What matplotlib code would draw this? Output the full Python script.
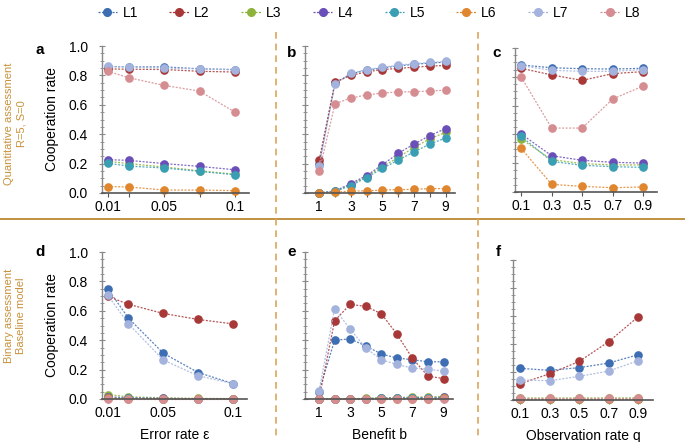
import matplotlib
matplotlib.use('Agg')
import matplotlib.pyplot as plt
from matplotlib.lines import Line2D

plt.rcParams['font.family'] = ['Liberation Sans', 'DejaVu Sans']

names = ['L1', 'L2', 'L3', 'L4', 'L5', 'L6', 'L7', 'L8']
colors = {'L1': '#3d6db3', 'L2': '#a83838', 'L3': '#8db33c', 'L4': '#6b4fb8',
          'L5': '#3a9fb4', 'L6': '#e0862e', 'L7': '#a4b3dd', 'L8': '#d68d91'}

x_err = [0.01, 0.025, 0.05, 0.075, 0.1]
x_ben = [1, 2, 3, 4, 5, 6, 7, 8, 9]
x_obs = [0.1, 0.3, 0.5, 0.7, 0.9]

# panel a: quantitative, error rate
a_L1 = [0.860, 0.858, 0.858, 0.845, 0.840]
a_L2 = [0.844, 0.842, 0.840, 0.828, 0.823]
a_L3 = [0.215, 0.200, 0.177, 0.151, 0.128]
a_L4 = [0.227, 0.222, 0.200, 0.181, 0.158]
a_L5 = [0.202, 0.183, 0.170, 0.147, 0.124]
a_L6 = [0.044, 0.041, 0.020, 0.020, 0.016]
a_L7 = [0.862, 0.858, 0.850, 0.844, 0.837]
a_L8 = [0.828, 0.784, 0.732, 0.693, 0.550]

# panel b: quantitative, benefit
b_L1 = [0.200, 0.748, 0.810, 0.836, 0.850, 0.865, 0.875, 0.884, 0.890]
b_L2 = [0.224, 0.753, 0.800, 0.824, 0.840, 0.847, 0.856, 0.863, 0.868]
b_L3 = [0.000, 0.010, 0.057, 0.112, 0.178, 0.242, 0.310, 0.368, 0.413]
b_L4 = [0.000, 0.014, 0.064, 0.119, 0.192, 0.269, 0.333, 0.390, 0.438]
b_L5 = [0.000, 0.012, 0.050, 0.105, 0.167, 0.224, 0.279, 0.333, 0.374]
b_L6 = [0.000, 0.005, 0.014, 0.014, 0.020, 0.023, 0.025, 0.030, 0.030]
b_L7 = [0.187, 0.744, 0.813, 0.840, 0.854, 0.870, 0.879, 0.888, 0.895]
b_L8 = [0.148, 0.607, 0.646, 0.667, 0.680, 0.687, 0.689, 0.694, 0.699]

# panel c: quantitative, observation rate
c_L1 = [0.882, 0.863, 0.856, 0.854, 0.859]
c_L2 = [0.859, 0.813, 0.775, 0.822, 0.836]
c_L3 = [0.368, 0.225, 0.197, 0.188, 0.188]
c_L4 = [0.403, 0.252, 0.220, 0.206, 0.201]
c_L5 = [0.387, 0.213, 0.185, 0.176, 0.171]
c_L6 = [0.303, 0.053, 0.039, 0.030, 0.035]
c_L7 = [0.877, 0.845, 0.838, 0.838, 0.850]
c_L8 = [0.799, 0.444, 0.444, 0.646, 0.736]

# panel d: binary, error rate
d_L1 = [0.751, 0.550, 0.311, 0.180, 0.105]
d_L2 = [0.699, 0.644, 0.582, 0.541, 0.511]
d_L3 = [0.030, 0.015, 0.008, 0.004, 0.003]
d_L4 = [0.015, 0.008, 0.004, 0.002, 0.002]
d_L5 = [0.010, 0.006, 0.003, 0.002, 0.001]
d_L6 = [0.005, 0.003, 0.002, 0.001, 0.001]
d_L7 = [0.708, 0.511, 0.265, 0.158, 0.105]
d_L8 = [0.000, 0.000, 0.000, 0.000, 0.000]

# panel e: binary, benefit
e_L1 = [0.050, 0.400, 0.409, 0.361, 0.306, 0.279, 0.267, 0.253, 0.253]
e_L2 = [0.000, 0.532, 0.644, 0.630, 0.580, 0.441, 0.276, 0.155, 0.139]
e_L3 = [0.000, 0.000, 0.002, 0.005, 0.008, 0.010, 0.013, 0.015, 0.016]
e_L4 = [0.000, 0.000, 0.001, 0.003, 0.005, 0.006, 0.008, 0.010, 0.011]
e_L5 = [0.000, 0.000, 0.001, 0.002, 0.004, 0.005, 0.007, 0.008, 0.009]
e_L6 = [0.000, 0.000, 0.001, 0.001, 0.002, 0.002, 0.003, 0.003, 0.004]
e_L7 = [0.055, 0.614, 0.475, 0.347, 0.267, 0.235, 0.210, 0.203, 0.189]
e_L8 = [0.000, 0.000, 0.000, 0.000, 0.000, 0.000, 0.000, 0.000, 0.000]

# panel f: binary, observation rate
f_L1 = [0.226, 0.212, 0.231, 0.264, 0.324]
f_L2 = [0.117, 0.188, 0.276, 0.417, 0.595]
f_L3 = [0.014, 0.014, 0.014, 0.015, 0.015]
f_L4 = [0.010, 0.010, 0.010, 0.010, 0.010]
f_L5 = [0.010, 0.010, 0.010, 0.010, 0.010]
f_L6 = [0.008, 0.008, 0.008, 0.008, 0.008]
f_L7 = [0.143, 0.138, 0.169, 0.207, 0.281]
f_L8 = [0.012, 0.012, 0.012, 0.012, 0.012]

y_major = [0.0, 0.2, 0.4, 0.6, 0.8, 1.0]
y_major_labels = ['0.0', '0.2', '0.4', '0.6', '0.8', '1.0']
y_minor = [i * 0.05 for i in range(21)]

W, H = 685, 442
fig = plt.figure(figsize=(W / 100, H / 100), dpi=100)


def rect(l, t, r, b):
    return [l / W, 1 - b / H, (r - l) / W, (b - t) / H]


def panel(box, x, series, xlim, xlabels, ylab=False, xlabel=None):
    ax = fig.add_axes(rect(*box))
    for n, y in zip(names, series):
        ax.plot(x, y, linestyle=(0, (1.6, 1.2)), lw=0.9, color=colors[n], alpha=0.85, clip_on=False)
        ax.plot(x, y, linestyle='none', marker='o', ms=5.2, color=colors[n], clip_on=False)
    ax.set_xlim(*xlim)
    ax.set_ylim(0, 1)
    ax.set_xticks(x)
    ax.set_xticklabels(xlabels)
    ax.set_yticks(y_major)
    ax.set_yticks(y_minor, minor=True)
    for s in ['top', 'right']:
        ax.spines[s].set_visible(False)
    ax.spines['left'].set_color('#888888')
    ax.spines['bottom'].set_color('#555555')
    ax.spines['left'].set_linewidth(1.0)
    ax.spines['bottom'].set_linewidth(1.2)
    ax.tick_params(axis='x', direction='out', length=3, color='#555555', pad=2, labelsize=10)
    ax.tick_params(axis='y', which='major', direction='inout', length=4, color='#888888', pad=8, labelsize=10)
    ax.tick_params(axis='y', which='minor', direction='inout', length=2.5, color='#888888')
    if ylab:
        ax.set_yticklabels(y_major_labels)
        ax.set_ylabel('Cooperation rate', fontsize=10, labelpad=7)
    else:
        ax.set_yticklabels([])
    if xlabel:
        ax.set_xlabel(xlabel, fontsize=10, labelpad=6)
    return ax


lab_err = ['0.01', '', '0.05', '', '0.1']
lab_ben = ['1', '', '3', '', '5', '', '7', '', '9']
lab_obs = ['0.1', '0.3', '0.5', '0.7', '0.9']

panel((102, 46, 249, 193), x_err, [a_L1, a_L2, a_L3, a_L4, a_L5, a_L6, a_L7, a_L8],
      (0.006, 0.11), lab_err, ylab=True)
panel((305, 46, 455, 193), x_ben, [b_L1, b_L2, b_L3, b_L4, b_L5, b_L6, b_L7, b_L8],
      (0.1, 9.6), lab_ben)
panel((515, 48, 657, 192), x_obs, [c_L1, c_L2, c_L3, c_L4, c_L5, c_L6, c_L7, c_L8],
      (0.06, 0.99), lab_obs)
panel((102, 252, 247, 399), x_err, [d_L1, d_L2, d_L3, d_L4, d_L5, d_L6, d_L7, d_L8],
      (0.006, 0.11), lab_err, ylab=True, xlabel='Error rate ε')
panel((305, 252, 453, 399), x_ben, [e_L1, e_L2, e_L3, e_L4, e_L5, e_L6, e_L7, e_L8],
      (0.1, 9.6), lab_ben, xlabel='Benefit b')
panel((513, 260, 653, 400), x_obs, [f_L1, f_L2, f_L3, f_L4, f_L5, f_L6, f_L7, f_L8],
      (0.05, 1.0), lab_obs, xlabel='Observation rate q')

# panel letters
for letter, px, py in [('a', 40, 50), ('b', 292, 53), ('c', 497, 53),
                       ('d', 40, 252), ('e', 292, 252), ('f', 498, 252)]:
    fig.text(px / W, 1 - py / H, letter, fontsize=11, fontweight='bold', ha='center', va='center')

# row labels
gold = '#c8913a'
fig.text(15 / W, 1 - 124 / H, 'Quantitative assessment\nR=5, S=0', rotation=90, color=gold,
         fontsize=8, ha='center', va='center', multialignment='center', linespacing=1.25)
fig.text(15 / W, 1 - 316 / H, 'Binary assessment\nBaseline model', rotation=90, color=gold,
         fontsize=8, ha='center', va='center', multialignment='center', linespacing=1.25)

# separators
fig.add_artist(Line2D([0, 1], [1 - 219 / H, 1 - 219 / H], color='#c09040', lw=1.4))
for xv in [276, 478]:
    fig.add_artist(Line2D([xv / W, xv / W], [1 - 32 / H, 1 - 440 / H], color='#d9a55a',
                          lw=1.2, linestyle=(0, (4, 3))))

# legend
handles = [Line2D([], [], color=colors[n], marker='o', ms=5.5, lw=0.9, linestyle=(0, (1.6, 1.2)))
           for n in names]
fig.legend(handles, names, ncol=8, loc='center', bbox_to_anchor=(369 / W, 1 - 13 / H),
           frameon=False, fontsize=10, handlelength=1.4, handletextpad=0.4, columnspacing=2.25)

fig.savefig('out.png', dpi=100)
